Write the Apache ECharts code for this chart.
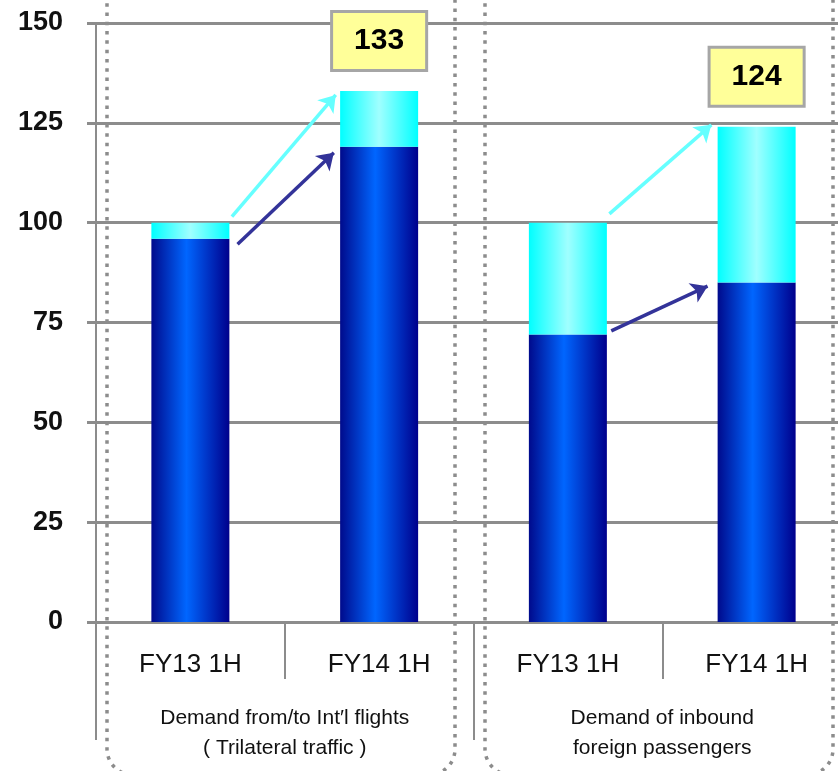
<!DOCTYPE html>
<html>
<head>
<meta charset="utf-8">
<script src="https://cdn.jsdelivr.net/npm/echarts@6/dist/echarts.min.js"></script>
<style>
  html, body { margin: 0; padding: 0; background: #fff; }
  #chart { width: 838px; height: 771px; }
</style>
</head>
<body>
<div id="chart"></div>
<script>
// chart data
const periods = ['FY13 1H', 'FY14 1H', 'FY13 1H', 'FY14 1H']
const groups = ['Demand from/to Int\u2032l flights\n( Trilateral traffic )', 'Demand of inbound\nforeign passengers']
const baseValues = [96, 119, 72, 85]
const totalValues = [100, 133, 100, 124]
const boxedIndex = [1, 3]
const yTicks = [0, 25, 50, 75, 100, 125, 150]

// arrows, in [category position, value] units
const lightArrows = [
  [[0.72, 101.5], [1.27, 132]],
  [[2.72, 102.2], [3.26, 124.5]],
]
const darkArrows = [
  [[0.75, 94.6], [1.26, 117.5]],
  [[2.73, 72.9], [3.24, 84.1]],
]

const grey = '#8c8c8c'
const chart = echarts.init(document.getElementById('chart'))

const topValues = totalValues.map((t, i) => ({
  value: t - baseValues[i],
  label: { show: boxedIndex.includes(i) },
}))

chart.setOption({
  animation: false,
  backgroundColor: '#fff',
  // plot runs a little past the right edge of the page
  grid: { left: 96, width: 755, top: 23, bottom: 149, containLabel: false, outerBoundsMode: 'none' },
  xAxis: [
    {
      type: 'category',
      data: periods,
      axisLine: { show: true, lineStyle: { color: grey, width: 3 } },
      axisTick: { show: true, interval: 0, length: 57, lineStyle: { color: grey, width: 2 } },
      axisLabel: {
        interval: 0,
        margin: 30,
        fontSize: 26,
        lineHeight: 26,
        color: '#111',
        fontFamily: 'Liberation Sans',
      },
    },
    {
      type: 'value',
      min: 0,
      max: 4,
      show: false,
    },
    {
      type: 'category',
      data: groups,
      position: 'bottom',
      axisLine: { show: false },
      axisTick: { show: true, interval: 0, length: 118, lineStyle: { color: grey, width: 2 } },
      axisLabel: {
        interval: 0,
        margin: 81,
        fontSize: 21,
        lineHeight: 30,
        color: '#111',
        fontFamily: 'Liberation Sans',
      },
    },
  ],
  yAxis: {
    type: 'value',
    min: 0,
    max: 150,
    interval: 25,
    axisLine: { show: true, lineStyle: { color: grey, width: 2 } },
    axisTick: { show: true, length: 9, lineStyle: { color: grey, width: 3 } },
    splitLine: { show: true, lineStyle: { color: grey, width: 3 } },
    axisLabel: {
      margin: 33,
      fontSize: 27,
      fontWeight: 'bold',
      color: '#111',
      fontFamily: 'Liberation Sans',
      formatter: (v) => (yTicks.includes(v) ? String(v) : ''),
    },
  },
  series: [
    {
      type: 'bar',
      stack: 'demand',
      barWidth: 78,
      data: baseValues,
      itemStyle: {
        color: new echarts.graphic.LinearGradient(0, 0, 1, 0, [
          { offset: 0, color: '#000a8c' },
          { offset: 0.45, color: '#0066ff' },
          { offset: 1, color: '#00008c' },
        ]),
      },
    },
    {
      type: 'bar',
      stack: 'demand',
      barWidth: 78,
      data: topValues,
      itemStyle: {
        color: new echarts.graphic.LinearGradient(0, 0, 1, 0, [
          { offset: 0, color: '#00ffff' },
          { offset: 0.5, color: '#a0ffff' },
          { offset: 1, color: '#00ffff' },
        ]),
      },
      label: {
        show: false,
        position: 'top',
        distance: 22,
        formatter: (p) => String(totalValues[p.dataIndex]),
        fontSize: 30,
        fontWeight: 'bold',
        fontFamily: 'Liberation Sans',
        color: '#000',
        lineHeight: 30,
        backgroundColor: '#ffff99',
        borderColor: '#a6a6a6',
        borderWidth: 3,
        padding: [13, 21, 13, 21],
      },
    },
    {
      type: 'lines',
      coordinateSystem: 'cartesian2d',
      xAxisIndex: 1,
      yAxisIndex: 0,
      symbol: ['none', 'arrow'],
      symbolSize: [13, 16],
      lineStyle: { color: '#66ffff', width: 3.5, opacity: 1, curveness: 0 },
      data: lightArrows.map((c) => ({ coords: c })),
      z: 5,
    },
    {
      type: 'lines',
      coordinateSystem: 'cartesian2d',
      xAxisIndex: 1,
      yAxisIndex: 0,
      symbol: ['none', 'arrow'],
      symbolSize: [13, 16],
      lineStyle: { color: '#333399', width: 3.5, opacity: 1, curveness: 0 },
      data: darkArrows.map((c) => ({ coords: c })),
      z: 5,
    },
  ],
  graphic: [
    {
      type: 'rect',
      z: 10,
      shape: { x: 107, y: -25, width: 348, height: 800, r: 26 },
      style: { fill: 'none', stroke: grey, lineWidth: 3.5, lineDash: [3.5, 5.8] },
    },
    {
      type: 'rect',
      z: 10,
      shape: { x: 485, y: -25, width: 348, height: 800, r: 26 },
      style: { fill: 'none', stroke: grey, lineWidth: 3.5, lineDash: [3.5, 5.8] },
    },
  ],
})

window.addEventListener('resize', () => chart.resize())
</script>
</body>
</html>
